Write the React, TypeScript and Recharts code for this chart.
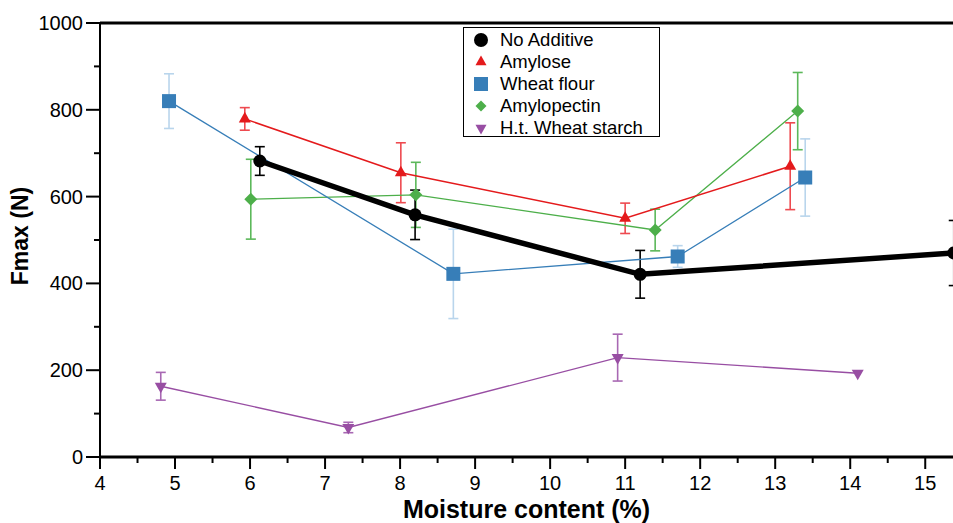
import React from "react";
import { ComposedChart, Scatter, XAxis, YAxis, ErrorBar, ReferenceLine, Legend, Label } from "recharts";

const FONT = '"Liberation Sans", Arial, Helvetica, sans-serif';

// moisture content (%), Fmax (N), +/- error (N)
const noAdditiveX = [6.13, 8.2, 11.2, 15.38];
const noAdditiveY = [682, 558, 421, 470];
const noAdditiveErr = [33, 57, 55, 75];

const amyloseX = [5.93, 8.01, 11.0, 13.2];
const amyloseY = [779, 655, 550, 670];
const amyloseErr = [26, 69, 35, 100];

const wheatFlourX = [4.92, 8.71, 11.7, 13.4];
const wheatFlourY = [820, 422, 462, 644];
const wheatFlourErr = [63, 103, 25, 89];

const amylopectinX = [6.01, 8.21, 11.4, 13.3];
const amylopectinY = [594, 604, 523, 797];
const amylopectinErr = [92, 75, 48, 89];

const htStarchX = [4.81, 7.31, 10.9, 14.1];
const htStarchY = [163, 68, 229, 193];
const htStarchErr = [32, 12, 54, 0];

const xTicks = [4, 4.5, 5, 5.5, 6, 6.5, 7, 7.5, 8, 8.5, 9, 9.5, 10, 10.5, 11, 11.5, 12, 12.5, 13, 13.5, 14, 14.5, 15];
const yTicks = [0, 100, 200, 300, 400, 500, 600, 700, 800, 900, 1000];

type Kind = "circle" | "triangle" | "square" | "diamond" | "triangleDown";

const toRows = (xs: number[], ys: number[], errs: number[]) =>
  xs.map((x, i) => ({ x, y: ys[i], err: errs[i] }));

const series = [
  { name: "No Additive", data: toRows(noAdditiveX, noAdditiveY, noAdditiveErr), color: "#000000", errColor: "#000000", kind: "circle" as Kind, size: 13, width: 5.5 },
  { name: "Amylose", data: toRows(amyloseX, amyloseY, amyloseErr), color: "#e41a1c", errColor: "#ee4a50", kind: "triangle" as Kind, size: 12, width: 1.5 },
  { name: "Wheat flour", data: toRows(wheatFlourX, wheatFlourY, wheatFlourErr), color: "#377eb8", errColor: "#b9d5ec", kind: "square" as Kind, size: 14, width: 1.3 },
  { name: "Amylopectin", data: toRows(amylopectinX, amylopectinY, amylopectinErr), color: "#4daf4a", errColor: "#5cb85a", kind: "diamond" as Kind, size: 13, width: 1.3 },
  { name: "H.t. Wheat starch", data: toRows(htStarchX, htStarchY, htStarchErr), color: "#984ea3", errColor: "#a868b3", kind: "triangleDown" as Kind, size: 12, width: 1.3 },
];

// draw order: black on top
const drawOrder = [4, 3, 2, 1, 0];

function Marker({ kind, cx, cy, size, fill }: { kind: Kind; cx: number; cy: number; size: number; fill: string }) {
  const h = size / 2;
  if (kind === "circle") return <circle cx={cx} cy={cy} r={h} fill={fill} />;
  if (kind === "square") return <rect x={cx - h} y={cy - h} width={size} height={size} fill={fill} />;
  if (kind === "diamond")
    return <polygon points={`${cx},${cy - h} ${cx + h},${cy} ${cx},${cy + h} ${cx - h},${cy}`} fill={fill} />;
  const th = size * 0.88;
  if (kind === "triangle")
    return <polygon points={`${cx},${cy - (2 * th) / 3} ${cx + h},${cy + th / 3} ${cx - h},${cy + th / 3}`} fill={fill} />;
  return <polygon points={`${cx},${cy + (2 * th) / 3} ${cx + h},${cy - th / 3} ${cx - h},${cy - th / 3}`} fill={fill} />;
}

function XTick(props: any) {
  const { x, y, payload } = props;
  const major = Number.isInteger(payload.value);
  return (
    <g>
      <line x1={x} x2={x} y1={y} y2={y + (major ? 12 : 6)} stroke="#000" strokeWidth={2} />
      {major && (
        <text x={x} y={y + 33} textAnchor="middle" fontSize={20} fontFamily={FONT} fill="#000">
          {payload.value}
        </text>
      )}
    </g>
  );
}

function YTick(props: any) {
  const { x, y, payload } = props;
  const major = payload.value % 200 === 0;
  return (
    <g>
      <line x1={x - (major ? 14 : 6)} x2={x} y1={y} y2={y} stroke="#000" strokeWidth={2} />
      {major && (
        <text x={x - 17} y={y + 7} textAnchor="end" fontSize={20} fontFamily={FONT} fill="#000">
          {payload.value}
        </text>
      )}
    </g>
  );
}

function LegendBox() {
  return (
    <div
      style={{
        boxSizing: "border-box",
        width: 197,
        height: 110,
        border: "1.5px solid #000",
        background: "#fff",
        paddingTop: 1,
        fontFamily: FONT,
        fontSize: 18.5,
        color: "#000",
      }}
    >
      {series.map((s) => (
        <div key={s.name} style={{ height: 22, display: "flex", alignItems: "center" }}>
          <svg width={36} height={22} style={{ display: "block" }}>
            <Marker kind={s.kind} cx={17} cy={11} size={s.kind === "circle" ? 14 : s.kind === "square" ? 14 : 11} fill={s.color} />
          </svg>
          <span style={{ lineHeight: "22px", whiteSpace: "nowrap" }}>{s.name}</span>
        </div>
      ))}
    </div>
  );
}

export default function App() {
  return (
    <div style={{ position: "absolute", left: 0, top: 0, width: 953, height: 523, background: "#fff" }}>
      <ComposedChart width={953} height={523} margin={{ top: 23, right: 0, bottom: 0, left: 0 }}>
        <XAxis
          type="number"
          dataKey="x"
          domain={[4, 15.37]}
          allowDataOverflow
          ticks={xTicks}
          interval={0}
          tickSize={0}
          tickMargin={0}
          tickLine={false}
          tick={<XTick />}
          height={66}
          axisLine={{ stroke: "#000", strokeWidth: 3 }}
        >
          <Label
            content={(p: any) => {
              const vb = p.viewBox;
              return (
                <text x={vb.x + vb.width / 2} y={517.6} textAnchor="middle" fontSize={25} fontWeight="bold" fontFamily={FONT} fill="#000">
                  Moisture content (%)
                </text>
              );
            }}
          />
        </XAxis>
        <YAxis
          type="number"
          dataKey="y"
          domain={[0, 1000]}
          ticks={yTicks}
          interval={0}
          tickSize={0}
          tickMargin={0}
          tickLine={false}
          tick={<YTick />}
          width={100}
          axisLine={{ stroke: "#000", strokeWidth: 2 }}
        >
          <Label
            content={(p: any) => {
              const vb = p.viewBox;
              const cx = 28;
              const cy = vb.y + vb.height / 2 - 4;
              return (
                <text x={cx} y={cy} transform={`rotate(-90 ${cx} ${cy})`} textAnchor="middle" fontSize={23} fontWeight="bold" fontFamily={FONT} fill="#000">
                  Fmax (N)
                </text>
              );
            }}
          />
        </YAxis>
        <ReferenceLine y={1000} stroke="#000" strokeWidth={3} />
        {drawOrder.map((i) => {
          const s = series[i];
          return (
            <Scatter
              key={s.name}
              name={s.name}
              data={s.data}
              isAnimationActive={false}
              line={{ stroke: s.color, strokeWidth: s.width }}
              lineJointType="linear"
              shape={(p: any) => <Marker kind={s.kind} cx={p.cx} cy={p.cy} size={s.size} fill={s.color} />}
            >
              <ErrorBar dataKey="err" direction="y" width={5} stroke={s.errColor} strokeWidth={1.6} isAnimationActive={false} />
            </Scatter>
          );
        })}
        <Legend
          layout="vertical"
          align="center"
          verticalAlign="middle"
          content={() => <LegendBox />}
          wrapperStyle={{ left: 463, top: 27, width: 197, height: 110 }}
        />
      </ComposedChart>
    </div>
  );
}
